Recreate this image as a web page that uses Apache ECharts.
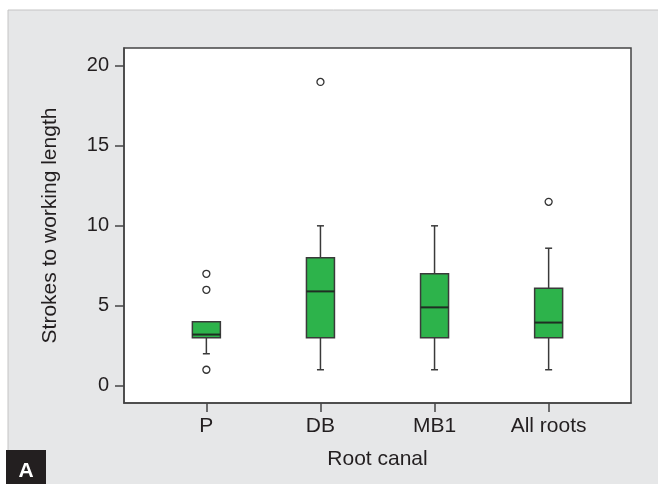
<!DOCTYPE html>
<html>
<head>
<meta charset="utf-8">
<script src="https://cdn.jsdelivr.net/npm/echarts@6/dist/echarts.min.js"></script>
<style>
html,body{margin:0;padding:0;background:#fff;}
#chart{width:658px;height:484px;}
</style>
</head>
<body>
<div id="chart"></div>
<script>
const categories = ['P', 'DB', 'MB1', 'All roots'];
const lowWhisker = [2, 1, 1, 1];
const q1 = [3, 3, 3, 3];
const medians = [3.2, 5.9, 4.9, 3.95];
const q3 = [4, 8, 7, 6.1];
const highWhisker = [4, 10, 10, 8.6];
const outlierCategory = [0, 0, 0, 1, 3];
const outlierValue = [7, 6, 1, 19, 11.5];
const yTicks = [0, 5, 10, 15, 20];
const xTicks = [0, 1, 2, 3];

const FONT = 'Liberation Sans, Arial, Helvetica, sans-serif';
const TEXT = '#231f20';
const AXIS = '#444444';

const boxData = categories.map((c, i) => [i, lowWhisker[i], q1[i], medians[i], q3[i], highWhisker[i]]);
const outlierData = outlierCategory.map((c, i) => [c, outlierValue[i]]);

function renderBox(params, api) {
  const x = api.value(0);
  const pLow = api.coord([x, api.value(1)]);
  const pQ1 = api.coord([x, api.value(2)]);
  const pMed = api.coord([x, api.value(3)]);
  const pQ3 = api.coord([x, api.value(4)]);
  const pHigh = api.coord([x, api.value(5)]);
  const cx = pQ1[0];
  const hw = 14, cap = 3.5;
  const ls = {stroke: '#3a3a3a', lineWidth: 1.5};
  return {
    type: 'group',
    children: [
      {type: 'line', shape: {x1: cx, y1: pLow[1], x2: cx, y2: pQ1[1]}, style: ls},
      {type: 'line', shape: {x1: cx, y1: pQ3[1], x2: cx, y2: pHigh[1]}, style: ls},
      {type: 'line', shape: {x1: cx - cap, y1: pLow[1], x2: cx + cap, y2: pLow[1]}, style: ls},
      {type: 'line', shape: {x1: cx - cap, y1: pHigh[1], x2: cx + cap, y2: pHigh[1]}, style: ls},
      {type: 'rect', shape: {x: cx - hw, y: pQ3[1], width: 2 * hw, height: pQ1[1] - pQ3[1]},
        style: {fill: '#2db34b', stroke: '#3a3a3a', lineWidth: 1.5}},
      {type: 'line', shape: {x1: cx - hw, y1: pMed[1], x2: cx + hw, y2: pMed[1]},
        style: {stroke: '#1f2e23', lineWidth: 2}}
    ]
  };
}

const chart = echarts.init(document.getElementById('chart'), null, {renderer: 'canvas'});
chart.setOption({
  animation: false,
  textStyle: {fontFamily: FONT},
  graphic: [
    {type: 'rect', z: -100, shape: {x: 8, y: 10, width: 660, height: 480},
      style: {fill: '#e6e7e8', stroke: '#c4c4c4', lineWidth: 1}},
    {type: 'rect', z: 100, shape: {x: 6, y: 450, width: 40, height: 40},
      style: {fill: '#231f20'}},
    {type: 'text', z: 101, x: 26, y: 471,
      style: {text: 'A', fill: '#ffffff', font: 'bold 21px ' + FONT, textAlign: 'center', textVerticalAlign: 'middle'}}
  ],
  grid: {
    left: 124, top: 48, width: 507, height: 355,
    show: true, backgroundColor: '#ffffff', borderColor: AXIS, borderWidth: 1.5,
    containLabel: false
  },
  xAxis: {
    type: 'value', min: -0.722, max: 3.722,
    axisLine: {show: true, onZero: false, lineStyle: {color: AXIS, width: 1.5}},
    splitLine: {show: false},
    axisTick: {show: true, customValues: xTicks, length: 9, lineStyle: {color: AXIS, width: 1.5}},
    axisLabel: {customValues: xTicks, formatter: v => categories[Math.round(v)] || '',
      fontSize: 21, color: TEXT, margin: 13, fontFamily: FONT},
    name: 'Root canal', nameLocation: 'middle', nameGap: 46,
    nameTextStyle: {fontSize: 21, color: TEXT, fontFamily: FONT}
  },
  yAxis: {
    type: 'value', min: -1.08, max: 21.12,
    axisLine: {show: true, onZero: false, lineStyle: {color: AXIS, width: 1.5}},
    splitLine: {show: false},
    axisTick: {show: true, customValues: yTicks, length: 9, lineStyle: {color: AXIS, width: 1.5}},
    axisLabel: {customValues: yTicks, fontSize: 20, color: TEXT, margin: 15, fontFamily: FONT},
    name: 'Strokes to working length', nameLocation: 'middle', nameGap: 63,
    nameTextStyle: {fontSize: 21, color: TEXT, fontFamily: FONT}
  },
  series: [
    {type: 'custom', renderItem: renderBox, data: boxData, encode: {x: 0, y: [1, 2, 3, 4, 5]}, z: 2},
    {type: 'scatter', data: outlierData, symbol: 'circle', symbolSize: 7, z: 3,
      itemStyle: {color: '#ffffff', borderColor: '#333333', borderWidth: 1.3, opacity: 1}}
  ]
});
</script>
</body>
</html>
